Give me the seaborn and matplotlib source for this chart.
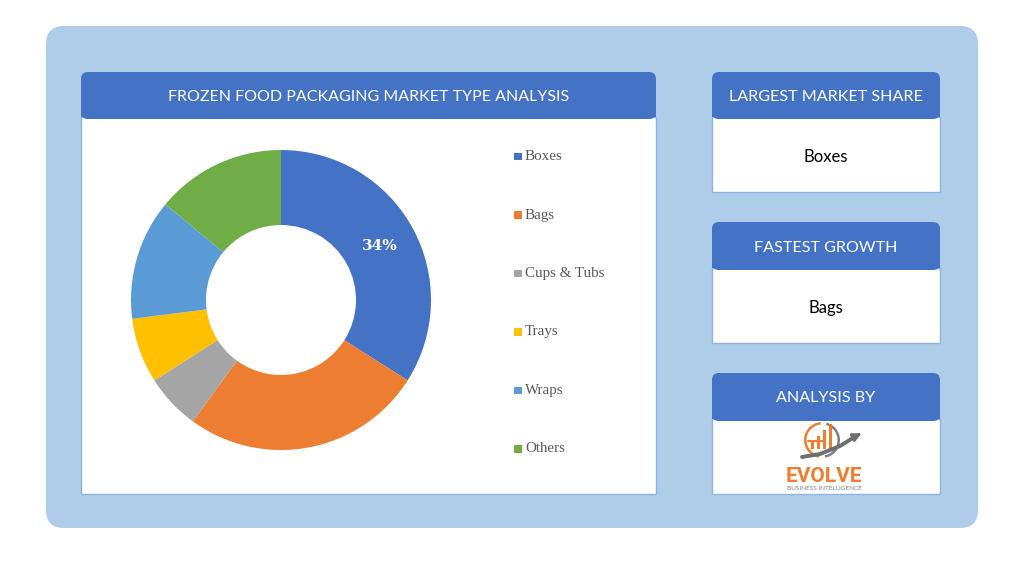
import matplotlib
matplotlib.use("Agg")
import matplotlib.pyplot as plt
from matplotlib.patches import FancyBboxPatch, Rectangle, Wedge, Circle
import seaborn as sns

sns.set_theme(style="white")
plt.rcParams['font.family'] = ['Lato', 'DejaVu Sans']

# ---- data ----
categories = ["Boxes", "Bags", "Cups & Tubs", "Trays", "Wraps", "Others"]
shares = [34, 26, 6, 7, 13, 14]
colors = ["#4472C4", "#ED7D31", "#A5A5A5", "#FFC000", "#5B9BD5", "#70AD47"]
title = "FROZEN FOOD PACKAGING MARKET TYPE ANALYSIS"
card_titles = ["LARGEST MARKET SHARE", "FASTEST GROWTH", "ANALYSIS BY"]
card_values = ["Boxes", "Bags", None]

palette = sns.color_palette(colors)

W, H = 1024, 576
fig = plt.figure(figsize=(W / 100, H / 100), dpi=100)
fig.patch.set_facecolor("white")
bg = fig.add_axes([0, 0, 1, 1])
bg.set_xlim(0, W)
bg.set_ylim(H, 0)
bg.axis("off")

HEAD = "#4472C4"
PANEL = "#AFCDE9"
EDGE = "#8FB4E0"

# outer panel
bg.add_patch(FancyBboxPatch((46, 26), 932, 502, boxstyle="round,pad=0,rounding_size=18",
                            fc=PANEL, ec="none"))

def card(x0, x1, y0, ymid, y1, text, fs):
    bg.add_patch(Rectangle((x0, ymid), x1 - x0, y1 - ymid, fc="white", ec=EDGE, lw=1.0))
    bg.add_patch(FancyBboxPatch((x0, y0), x1 - x0, ymid - y0 + 2,
                                boxstyle="round,pad=0,rounding_size=7", fc=HEAD, ec="none"))
    bg.add_patch(Rectangle((x0, ymid - 6), x1 - x0, 6, fc=HEAD, ec="none"))
    bg.text((x0 + x1) / 2, (y0 + ymid) / 2 + 2.5, text, color="white", fontsize=fs,
            ha="center", va="center")

# main card
card(81, 656, 72, 117, 494, title, 11.5)

# right cards
ys = [(72, 117, 192), (222, 268, 343), (373, 419, 494)]
for (y0, ym, y1), t, v in zip(ys, card_titles, card_values):
    card(712, 940, y0, ym, y1, t, 11.6)
    if v:
        bg.text(826, (ym + y1) / 2 + 2, v, color="black", fontsize=12, ha="center", va="center")

# logo (simplified)
lx, ly = 822, 440
bg.add_patch(Wedge((lx, ly), 18, 100, 265, width=2.5, fc="#ED7D31", ec="none"))
bg.add_patch(Wedge((lx, ly), 18, 285, 80, width=2.5, fc="#7F7F7F", ec="none"))
for i, hgt in enumerate([8, 13, 19, 25]):
    bg.add_patch(Rectangle((lx - 11 + i * 6, ly + 9 - hgt), 2.5, hgt, fc="#ED7D31", ec="none"))
bg.plot([lx - 14, lx + 2], [ly + 1, ly + 1], color="#ED7D31", lw=1.5)
bg.plot([lx - 20, lx - 2, lx + 18, lx + 34], [ly + 17, ly + 14, ly + 6, ly - 4],
        color="#6E6E6E", lw=2.8, solid_capstyle="round")
bg.annotate("", xy=(lx + 42, ly - 8), xytext=(lx + 32, ly - 3),
            arrowprops=dict(arrowstyle="-|>", color="#6E6E6E", lw=2, mutation_scale=12))
bg.text(lx + 2, ly + 36, "EVOLVE", color="#ED7D31", fontsize=15, fontweight="bold",
        ha="center", va="center", family=["Roboto", "DejaVu Sans"])
bg.text(lx + 2, ly + 48, "BUSINESS INTELLIGENCE", color="#7F7F7F", fontsize=4.6,
        ha="center", va="center")

# donut
cx, cy, R = 281, 300, 150
half = 165
pax = fig.add_axes([(cx - half) / W, 1 - (cy + half) / H, 2 * half / W, 2 * half / H])
wedges, _, autotexts = pax.pie(shares, colors=palette, startangle=90, counterclock=False,
                               radius=1.0, wedgeprops=dict(width=0.5, edgecolor="none"),
                               autopct=lambda p: f"{p:.0f}%" if p > 30 else "",
                               pctdistance=0.75)
for t in autotexts:
    t.set_color("white")
    t.set_fontsize(11)
    t.set_fontweight("bold")
    t.set_family(["DejaVu Serif"])
pax.set_xlim(-half / R, half / R)
pax.set_ylim(-half / R, half / R)
pax.set_aspect("equal")
pax.axis("off")

# legend
ly0 = 156
for i, (c, lab) in enumerate(zip(palette, categories)):
    yy = ly0 + i * 58.5
    bg.add_patch(Rectangle((514, yy - 3.5), 7.5, 7.5, fc=c, ec="none"))
    bg.text(525, yy + 0.5, lab, color="#595959", fontsize=10.8, ha="left", va="center",
            family=["Liberation Serif", "DejaVu Serif"])

fig.savefig("out.png", dpi=100, facecolor="white")
